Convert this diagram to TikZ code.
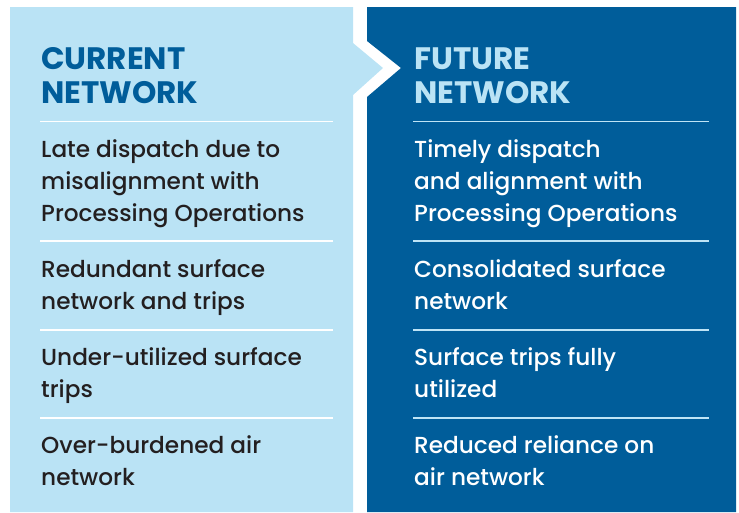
\documentclass[tikz,border=0pt]{standalone}
\usepackage{fontspec}
\setmainfont{Poppins}
\newfontfamily\bodyfont{Poppins Medium}
\definecolor{lightpanel}{RGB}{186,227,245}
\definecolor{darkpanel}{RGB}{0,93,154}
\definecolor{bodytext}{RGB}{35,31,32}
\definecolor{rulefut}{RGB}{190,228,246}

\begin{document}
\begin{tikzpicture}
        [x=1pt,y=-1pt,
         every node/.style={anchor=base west,align=left,inner sep=0pt,font=\bodyfont\fontsize{23.2}{32}\selectfont},
         head/.style={font=\fontsize{31}{34}\selectfont\bfseries},
         rule/.style={line width=1.2pt}]
    \useasboundingbox (0,0) rectangle (739,512);
    % panels
    \fill[lightpanel] (10,7) -- (353,7) -- (353,43) -- (383,68) -- (353,95) -- (353,512) -- (10,512) -- cycle;
    \fill[darkpanel] (367,7) -- (736,7) -- (736,512) -- (367,512) -- (367,97) -- (401,68) -- (367,41) -- cycle;
    % current network (nodes sit on their last baseline)
    \node[head,text=darkpanel] (curhead) at (41,103) {CURRENT\\NETWORK};
    \draw[rule,white] (40,121.5) -- (333,121.5);
    \node[text=bodytext] (cur1) at (41,221) {Late dispatch due to\\misalignment with\\Processing Operations};
    \draw[rule,white] (40,241) -- (333,241);
    \node[text=bodytext] (cur2) at (41,309) {Redundant surface\\network and trips};
    \draw[rule,white] (40,330) -- (333,330);
    \node[text=bodytext] (cur3) at (41,397) {Under-utilized surface\\trips};
    \draw[rule,white] (40,418) -- (333,418);
    \node[text=bodytext] (cur4) at (41,485) {Over-burdened air\\network};
    % future network
    \node[head,text=lightpanel] (futhead) at (414,103) {FUTURE\\NETWORK};
    \draw[rule,rulefut] (413,121.5) -- (709,121.5);
    \node[text=white] (fut1) at (414,221) {Timely dispatch\\and alignment with\\Processing Operations};
    \draw[rule,rulefut] (413,241) -- (709,241);
    \node[text=white] (fut2) at (414,309) {Consolidated surface\\network};
    \draw[rule,rulefut] (413,330) -- (709,330);
    \node[text=white] (fut3) at (414,397) {Surface trips fully\\utilized};
    \draw[rule,rulefut] (413,418) -- (709,418);
    \node[text=white] (fut4) at (414,485) {Reduced reliance on\\air network};
\end{tikzpicture}
\end{document}
